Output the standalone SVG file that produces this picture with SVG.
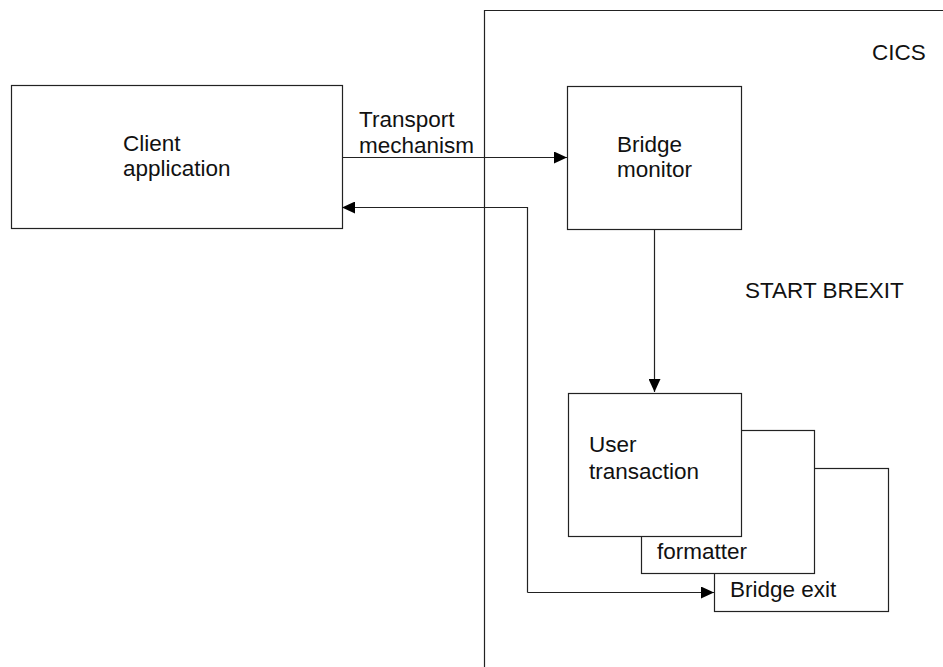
<svg xmlns="http://www.w3.org/2000/svg" width="943" height="667" viewBox="0 0 943 667">
<defs>
<marker id="arr" markerWidth="13" markerHeight="12" refX="13" refY="6" orient="auto" markerUnits="userSpaceOnUse">
<path d="M0,0 L13,6 L0,12 Z" fill="#000"/>
</marker>
<style>
.box{fill:#fff;stroke:#222;stroke-width:1.2}
.ln{fill:none;stroke:#222;stroke-width:1.2}
text{font-family:"Liberation Sans",Arial,sans-serif;font-size:22.5px;fill:#111}
</style>
</defs>
<rect width="943" height="667" fill="#fff"/>
<g id="cics">
<path class="ln" d="M484.5,667 L484.5,10.5 L943,10.5"/>
<text x="872" y="60">CICS</text>
</g>
<g id="client">
<rect class="box" x="11.5" y="85.5" width="331" height="143"/>
<text x="123" y="151">Client</text>
<text x="123" y="176">application</text>
</g>
<g id="bridge-monitor">
<rect class="box" x="567.5" y="86.5" width="174" height="143"/>
<text x="617" y="152">Bridge</text>
<text x="617" y="177">monitor</text>
</g>
<g id="bridge-exit">
<rect class="box" x="714.5" y="468.5" width="174" height="143"/>
<text x="730" y="597">Bridge exit</text>
</g>
<g id="formatter">
<rect class="box" x="641.5" y="430.5" width="173" height="143"/>
<text x="657" y="559">formatter</text>
</g>
<g id="user-transaction">
<rect class="box" x="568.5" y="393.5" width="173" height="143"/>
<text x="589" y="452">User</text>
<text x="589" y="479">transaction</text>
</g>
<g id="connectors">
<path class="ln" d="M342,157.5 L567,157.5" marker-end="url(#arr)"/>
<path class="ln" d="M527.5,592.5 L527.5,207.5 L342,207.5" marker-end="url(#arr)"/>
<path class="ln" d="M654.5,229 L654.5,392" marker-end="url(#arr)"/>
<path class="ln" d="M527.5,592.5 L714,592.5" marker-end="url(#arr)"/>
</g>
<g id="labels">
<text x="359" y="127">Transport</text>
<text x="359" y="153">mechanism</text>
<text x="745" y="298">START BREXIT</text>
</g>
</svg>
